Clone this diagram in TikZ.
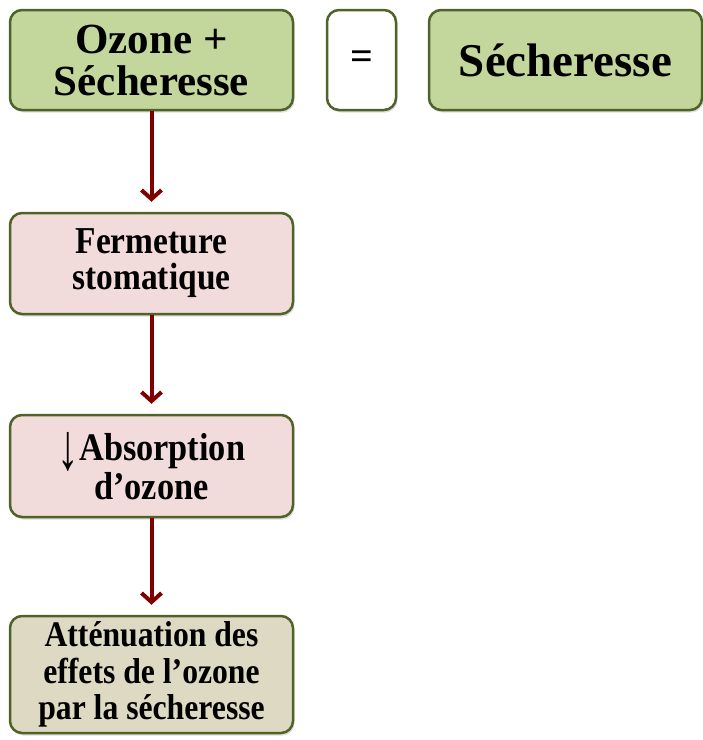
\documentclass[tikz,border=0pt]{standalone}
\usepackage{fontspec}
\setmainfont{Liberation Serif}
\newfontfamily\narrowserif{Liberation Serif}[FakeStretch=0.88]
\usepackage{tikz}
\usetikzlibrary{arrows.meta,shadows}
\definecolor{edge}{RGB}{79,98,40}
\definecolor{leaf}{RGB}{195,214,155}
\definecolor{rose}{RGB}{242,220,219}
\definecolor{sand}{RGB}{221,217,195}
\definecolor{wine}{RGB}{128,0,0}
\tikzstyle{cell}=[draw=edge,line width=2.5pt,rounded corners=12pt,inner sep=0pt,align=center,drop shadow={shadow xshift=1.5pt,shadow yshift=-2.5pt,opacity=0.25}]
\tikzstyle{flow}=[wine,line width=4pt,-{Straight Barb[length=9pt,width=20pt]},shorten >=10pt]

\begin{document}
\begin{tikzpicture}
\useasboundingbox (0,0) rectangle (703pt,-740pt);
\node[cell, fill=leaf, minimum width=283pt, minimum height=100pt, font=\fontsize{43pt}{42pt}\selectfont\bfseries] (oz) at (151.5pt,-60pt) {Ozone +\\Sécheresse};
\node[cell, fill=white, minimum width=69pt, minimum height=100pt, font=\fontsize{40pt}{40pt}\selectfont\bfseries] (eq) at (361.5pt,-60pt) {=};
\node[cell, fill=leaf, minimum width=273pt, minimum height=100pt, font=\fontsize{47pt}{47pt}\selectfont\bfseries] (sec) at (565.5pt,-60pt) {Sécheresse};
\node[cell, fill=rose, minimum width=283pt, minimum height=101pt, font=\fontsize{38pt}{36pt}\narrowserif\bfseries] (ferm) at (151.5pt,-263.5pt) {Fermeture\\stomatique};
\node[cell, fill=rose, minimum width=283pt, minimum height=102pt, font=\fontsize{39pt}{35pt}\narrowserif\bfseries] (abs) at (151.5pt,-466pt) {{\mdseries\raisebox{-0.22em}{\resizebox{0.55em}{0.95em}{↓}}}Absorption\\d’ozone};
\node[cell, fill=sand, minimum width=283pt, minimum height=117pt, font=\fontsize{36pt}{36.7pt}\narrowserif\bfseries] (att) at (151.5pt,-674.5pt) {Atténuation des\\effets de l’ozone\\par la sécheresse};
\draw[flow] (oz) -- (ferm);
\draw[flow] (ferm) -- (abs);
\draw[flow] (abs) -- (att);
\end{tikzpicture}
\end{document}
